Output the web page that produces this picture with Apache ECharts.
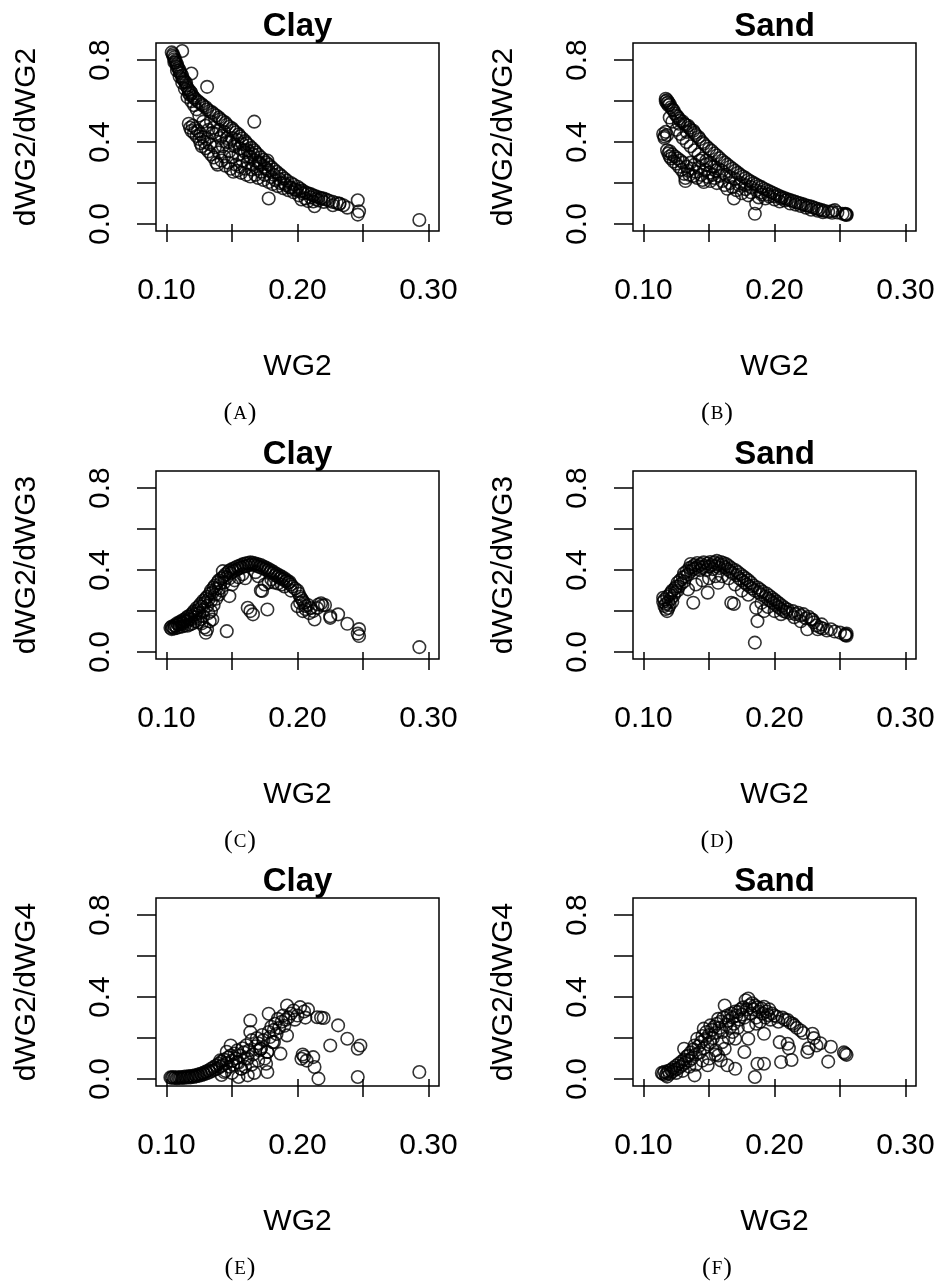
<!DOCTYPE html>
<html><head><meta charset="utf-8">
<script src="https://cdn.jsdelivr.net/npm/echarts@6/dist/echarts.min.js"></script>
<style>html,body{margin:0;padding:0;background:#fff}#c{width:939px;height:1281px}</style>
</head><body><div id="c"></div>
<script>
// ---------- tick / label values ----------
const xTicks = [0.10, 0.15, 0.20, 0.25, 0.30];
const xLabels = [0.10, 0.20, 0.30];
const yTicks = [0.0, 0.2, 0.4, 0.6, 0.8];
const yLabels = [0.0, 0.4, 0.8];
const xRange = [0.092, 0.308];
const yRange = [-0.034, 0.884];
const panelTitles = ['Clay', 'Sand', 'Clay', 'Sand', 'Clay', 'Sand'];
const yNames = ['dWG2/dWG2', 'dWG2/dWG2', 'dWG2/dWG3', 'dWG2/dWG3', 'dWG2/dWG4', 'dWG2/dWG4'];
const xName = 'WG2';
const captions = ['A', 'B', 'C', 'D', 'E', 'F'];

// ---------- data: [WG2, ratio] ----------
const clay_dWG2_dWG2 = [
[0.104,0.838],[0.105,0.830],[0.105,0.822],[0.106,0.815],[0.106,0.805],[0.107,0.798],[0.107,0.788],[0.108,0.780],[0.108,0.770],[0.109,0.762],[0.110,0.752],[0.110,0.742],[0.111,0.735],[0.112,0.724],[0.112,0.712],[0.113,0.705],[0.114,0.695],[0.115,0.690],[0.115,0.675],[0.116,0.665],[0.117,0.655],[0.118,0.648],[0.119,0.640],[0.117,0.640],[0.118,0.630],[0.120,0.625],[0.121,0.617],[0.122,0.610],[0.124,0.600],[0.125,0.593],[0.127,0.585],[0.128,0.577],[0.130,0.570],[0.131,0.560],[0.133,0.552],[0.135,0.545],[0.136,0.537],[0.138,0.530],[0.140,0.520],[0.141,0.512],[0.143,0.503],[0.145,0.495],[0.146,0.485],[0.148,0.475],[0.150,0.468],[0.151,0.458],[0.153,0.448],[0.155,0.438],[0.156,0.428],[0.158,0.418],[0.160,0.405],[0.161,0.395],[0.163,0.385],[0.165,0.372],[0.167,0.360],[0.168,0.350],[0.170,0.338],[0.172,0.326],[0.174,0.314],[0.176,0.300],[0.178,0.290],[0.180,0.278],[0.182,0.266],[0.184,0.255],[0.186,0.244],[0.188,0.234],[0.190,0.222],[0.192,0.212],[0.195,0.200],[0.197,0.192],[0.200,0.182],[0.202,0.172],[0.204,0.163],[0.206,0.155],[0.208,0.150],[0.210,0.146],[0.212,0.140],[0.214,0.135],[0.216,0.131],[0.218,0.127],[0.220,0.124],[0.222,0.120],[0.224,0.114],[0.227,0.108],[0.230,0.103],[0.232,0.098],[0.235,0.092],[0.238,0.080],[0.246,0.116],[0.247,0.062],[0.246,0.046],[0.293,0.020],
[0.112,0.845],[0.119,0.735],[0.131,0.670],[0.167,0.500],[0.177,0.310],[0.178,0.125],
[0.117,0.490],[0.118,0.470],[0.119,0.455],[0.120,0.480],[0.121,0.445],[0.122,0.468],[0.123,0.430],[0.124,0.455],[0.125,0.415],[0.126,0.440],[0.126,0.395],[0.127,0.380],[0.128,0.425],[0.129,0.400],[0.130,0.370],[0.131,0.415],[0.132,0.355],[0.133,0.390],[0.134,0.340],[0.135,0.445],[0.136,0.325],[0.137,0.375],[0.138,0.300],[0.139,0.290],[0.140,0.350],[0.141,0.420],[0.142,0.310],[0.143,0.380],[0.144,0.330],[0.145,0.285],[0.146,0.400],[0.147,0.300],[0.148,0.355],[0.149,0.270],[0.150,0.325],[0.151,0.255],[0.152,0.380],[0.153,0.290],[0.154,0.260],[0.155,0.340],[0.156,0.280],[0.157,0.250],[0.158,0.310],[0.159,0.360],[0.160,0.270],[0.161,0.240],[0.162,0.300],[0.163,0.330],[0.164,0.232],[0.165,0.265],[0.166,0.290],[0.168,0.240],[0.169,0.270],[0.170,0.225],[0.171,0.300],[0.172,0.255],[0.174,0.215],[0.175,0.240],[0.176,0.270],[0.178,0.205],[0.180,0.230],[0.181,0.195],[0.183,0.215],[0.185,0.185],[0.187,0.200],[0.189,0.175],[0.191,0.190],[0.193,0.165],[0.195,0.178],[0.197,0.155],[0.199,0.165],[0.201,0.140],[0.203,0.120],[0.204,0.150],[0.206,0.125],[0.208,0.112],[0.210,0.130],[0.212,0.110],[0.214,0.122],[0.216,0.115],[0.218,0.125],[0.220,0.108],[0.213,0.087],[0.227,0.092],[0.232,0.100],
[0.128,0.500],[0.130,0.480],[0.132,0.460],[0.134,0.500],[0.136,0.470],[0.138,0.440],[0.140,0.460],[0.142,0.430],[0.144,0.450],[0.146,0.420],[0.148,0.400],[0.150,0.420],[0.152,0.390],[0.154,0.410],[0.156,0.370],[0.158,0.390],[0.160,0.350],[0.162,0.360],[0.164,0.330],[0.166,0.340],[0.168,0.310],[0.170,0.300],[0.172,0.290],[0.175,0.280],[0.178,0.260],[0.182,0.240],[0.186,0.220],[0.190,0.200],[0.194,0.180],[0.198,0.170],[0.202,0.160],[0.125,0.530],[0.123,0.560],[0.121,0.580],[0.119,0.600],[0.116,0.620],[0.114,0.660],[0.112,0.690],[0.110,0.720],[0.108,0.750],[0.106,0.790]
];
const sand_dWG2_dWG2 = [
[0.117,0.612],[0.117,0.600],[0.118,0.605],[0.118,0.590],[0.119,0.595],[0.119,0.580],[0.120,0.585],[0.121,0.570],[0.122,0.560],[0.123,0.555],[0.124,0.540],[0.125,0.530],[0.126,0.525],[0.127,0.515],[0.128,0.505],[0.130,0.500],[0.131,0.490],[0.132,0.485],[0.134,0.480],[0.135,0.470],[0.136,0.460],[0.138,0.455],[0.139,0.445],[0.140,0.435],[0.142,0.425],[0.143,0.415],[0.145,0.400],[0.146,0.392],[0.148,0.380],[0.150,0.368],[0.152,0.358],[0.154,0.345],[0.156,0.335],[0.158,0.322],[0.160,0.310],[0.162,0.300],[0.164,0.290],[0.166,0.280],[0.168,0.270],[0.170,0.260],[0.172,0.250],[0.174,0.240],[0.176,0.232],[0.178,0.224],[0.180,0.215],[0.182,0.208],[0.184,0.200],[0.186,0.193],[0.188,0.186],[0.190,0.180],[0.192,0.172],[0.194,0.166],[0.196,0.160],[0.198,0.154],[0.200,0.148],[0.202,0.142],[0.204,0.136],[0.206,0.131],[0.208,0.126],[0.210,0.121],[0.212,0.117],[0.214,0.112],[0.216,0.108],[0.218,0.104],[0.220,0.100],[0.222,0.096],[0.224,0.092],[0.226,0.088],[0.228,0.085],[0.230,0.080],[0.232,0.076],[0.234,0.072],[0.236,0.068],[0.238,0.065],[0.241,0.060],[0.244,0.064],[0.246,0.068],[0.248,0.056],[0.252,0.050],[0.254,0.046],[0.255,0.048],[0.255,0.044],[0.254,0.050],
[0.115,0.440],[0.116,0.428],[0.117,0.450],[0.118,0.435],[0.116,0.420],[0.118,0.360],[0.119,0.345],[0.120,0.330],[0.120,0.355],[0.121,0.320],[0.122,0.340],[0.123,0.305],[0.124,0.330],[0.125,0.295],[0.126,0.320],[0.127,0.280],[0.128,0.310],[0.129,0.265],[0.130,0.300],[0.131,0.245],[0.132,0.225],[0.132,0.210],[0.133,0.280],[0.134,0.260],[0.135,0.240],[0.136,0.300],[0.137,0.270],[0.138,0.235],[0.139,0.290],[0.140,0.255],[0.141,0.225],[0.142,0.275],[0.143,0.310],[0.144,0.240],[0.145,0.215],[0.146,0.205],[0.147,0.265],[0.148,0.290],[0.149,0.230],[0.150,0.250],[0.151,0.210],[0.152,0.280],[0.153,0.240],[0.154,0.225],[0.155,0.260],[0.156,0.200],[0.158,0.235],[0.160,0.210],[0.162,0.190],[0.164,0.172],[0.166,0.200],[0.168,0.180],[0.169,0.125],[0.171,0.165],[0.173,0.190],[0.175,0.150],[0.178,0.170],[0.180,0.140],[0.182,0.155],[0.185,0.050],[0.186,0.100],[0.188,0.130],[0.190,0.145],[0.193,0.125],[0.196,0.135],[0.200,0.120],[0.204,0.110],[0.208,0.115],[0.212,0.100],[0.216,0.095],[0.220,0.088],[0.224,0.080],[0.228,0.070],[0.233,0.065],[0.237,0.058],[0.244,0.055],
[0.125,0.460],[0.128,0.440],[0.130,0.420],[0.133,0.400],[0.136,0.380],[0.139,0.360],[0.142,0.340],[0.145,0.320],[0.148,0.310],[0.151,0.300],[0.154,0.280],[0.157,0.270],[0.160,0.260],[0.163,0.240],[0.166,0.230],[0.170,0.220],[0.174,0.200],[0.178,0.190],[0.182,0.180],[0.186,0.165],[0.190,0.155],[0.195,0.145],[0.200,0.135],[0.205,0.125],[0.122,0.500],[0.120,0.520],[0.127,0.490],[0.133,0.450]
];
const clay_dWG2_dWG3 = [
[0.103,0.118],[0.104,0.125],[0.105,0.120],[0.106,0.130],[0.107,0.128],[0.108,0.140],[0.109,0.135],[0.110,0.145],[0.111,0.150],[0.112,0.142],[0.113,0.158],[0.114,0.152],[0.115,0.165],[0.116,0.172],[0.117,0.160],[0.118,0.180],[0.119,0.175],[0.120,0.190],[0.121,0.200],[0.122,0.185],[0.123,0.215],[0.124,0.205],[0.125,0.225],[0.126,0.235],[0.127,0.222],[0.128,0.250],[0.129,0.240],[0.130,0.262],[0.131,0.270],[0.132,0.255],[0.133,0.285],[0.134,0.300],[0.135,0.290],[0.136,0.315],[0.137,0.325],[0.138,0.310],[0.139,0.340],[0.140,0.350],[0.141,0.335],[0.142,0.360],[0.143,0.395],[0.144,0.370],[0.145,0.380],[0.146,0.365],[0.147,0.390],[0.148,0.398],[0.149,0.385],[0.150,0.405],[0.151,0.395],[0.152,0.410],[0.153,0.400],[0.154,0.418],[0.155,0.408],[0.156,0.422],[0.157,0.412],[0.158,0.428],[0.159,0.418],[0.160,0.432],[0.161,0.420],[0.162,0.435],[0.163,0.425],[0.164,0.438],[0.165,0.428],[0.166,0.436],[0.167,0.425],[0.168,0.432],[0.169,0.420],[0.170,0.428],[0.171,0.415],[0.172,0.425],[0.173,0.410],[0.174,0.418],[0.175,0.405],[0.176,0.412],[0.177,0.398],[0.178,0.405],[0.179,0.390],[0.180,0.398],[0.181,0.385],[0.182,0.390],[0.183,0.375],[0.184,0.382],[0.185,0.368],[0.186,0.375],[0.187,0.360],[0.188,0.368],[0.189,0.355],[0.190,0.360],[0.191,0.345],[0.192,0.350],[0.193,0.338],[0.194,0.342],[0.195,0.330],[0.196,0.320],[0.198,0.310],[0.200,0.300],[0.201,0.285],[0.202,0.270],[0.203,0.260],[0.204,0.250],[0.205,0.240],[0.206,0.225],[0.208,0.230],[0.210,0.215],[0.212,0.200],[0.216,0.232],[0.218,0.238],[0.219,0.228],[0.221,0.230],[0.225,0.175],[0.231,0.184],[0.238,0.138],[0.247,0.112],[0.246,0.090],[0.247,0.078],[0.293,0.024],
[0.104,0.112],[0.106,0.115],[0.108,0.118],[0.110,0.122],[0.112,0.125],[0.114,0.130],[0.116,0.128],[0.118,0.135],[0.120,0.140],[0.122,0.150],[0.124,0.145],[0.126,0.160],[0.127,0.140],[0.128,0.175],[0.129,0.120],[0.130,0.094],[0.131,0.110],[0.132,0.190],[0.133,0.150],[0.134,0.200],[0.135,0.159],[0.136,0.230],[0.138,0.260],[0.140,0.280],[0.142,0.300],[0.146,0.102],[0.148,0.273],[0.150,0.330],[0.152,0.350],[0.155,0.365],[0.158,0.380],[0.160,0.360],[0.162,0.216],[0.164,0.200],[0.166,0.184],[0.168,0.390],[0.170,0.370],[0.172,0.300],[0.173,0.298],[0.175,0.330],[0.177,0.208],[0.178,0.340],[0.180,0.355],[0.182,0.340],[0.185,0.335],[0.188,0.330],[0.190,0.320],[0.195,0.300],[0.200,0.224],[0.202,0.240],[0.204,0.200],[0.206,0.210],[0.209,0.190],[0.213,0.159],[0.215,0.215],[0.225,0.167],
[0.110,0.135],[0.113,0.140],[0.116,0.150],[0.119,0.160],[0.122,0.170],[0.125,0.190],[0.128,0.205],[0.131,0.225],[0.134,0.250],[0.137,0.280],[0.140,0.310],[0.144,0.340],[0.148,0.360]
];
const sand_dWG2_dWG3 = [
[0.115,0.265],[0.115,0.245],[0.116,0.225],[0.116,0.255],[0.117,0.210],[0.117,0.235],[0.118,0.200],[0.118,0.270],[0.119,0.245],[0.119,0.215],[0.120,0.280],[0.120,0.230],[0.121,0.260],[0.121,0.290],[0.122,0.245],[0.122,0.300],[0.123,0.275],[0.124,0.310],[0.124,0.290],[0.125,0.320],[0.126,0.300],[0.126,0.338],[0.127,0.320],[0.128,0.350],[0.129,0.335],[0.130,0.365],[0.131,0.345],[0.131,0.385],[0.132,0.370],[0.133,0.395],[0.134,0.380],[0.134,0.306],[0.135,0.410],[0.136,0.395],[0.136,0.430],[0.137,0.415],[0.138,0.405],[0.138,0.241],[0.139,0.425],[0.140,0.410],[0.141,0.435],[0.142,0.420],[0.143,0.400],[0.144,0.430],[0.145,0.415],[0.146,0.438],[0.147,0.420],[0.148,0.400],[0.149,0.290],[0.149,0.432],[0.150,0.418],[0.151,0.440],[0.152,0.425],[0.153,0.405],[0.154,0.438],[0.155,0.420],[0.156,0.445],[0.157,0.430],[0.157,0.338],[0.158,0.410],[0.159,0.440],[0.160,0.425],[0.161,0.435],[0.162,0.415],[0.163,0.430],[0.164,0.405],[0.165,0.420],[0.166,0.395],[0.167,0.241],[0.167,0.410],[0.168,0.385],[0.169,0.235],[0.170,0.400],[0.171,0.375],[0.172,0.390],[0.173,0.360],[0.174,0.380],[0.175,0.350],[0.176,0.370],[0.177,0.340],[0.178,0.360],[0.179,0.330],[0.180,0.350],[0.181,0.320],[0.182,0.338],[0.183,0.310],[0.184,0.325],[0.185,0.046],[0.185,0.300],[0.186,0.216],[0.187,0.151],[0.187,0.315],[0.188,0.290],[0.189,0.305],[0.190,0.280],[0.191,0.295],[0.192,0.200],[0.193,0.270],[0.194,0.285],[0.195,0.260],[0.196,0.275],[0.197,0.250],[0.198,0.265],[0.199,0.240],[0.200,0.255],[0.201,0.230],[0.202,0.245],[0.203,0.220],[0.204,0.235],[0.205,0.210],[0.206,0.225],[0.207,0.200],[0.208,0.215],[0.209,0.195],[0.210,0.208],[0.212,0.190],[0.214,0.200],[0.216,0.185],[0.218,0.192],[0.220,0.178],[0.222,0.185],[0.224,0.165],[0.226,0.172],[0.228,0.160],[0.229,0.158],[0.225,0.111],[0.230,0.145],[0.232,0.130],[0.233,0.111],[0.235,0.120],[0.237,0.115],[0.240,0.105],[0.243,0.111],[0.246,0.100],[0.250,0.095],[0.254,0.086],[0.255,0.080],[0.254,0.082],[0.255,0.090],
[0.140,0.330],[0.145,0.350],[0.150,0.360],[0.155,0.370],[0.160,0.370],[0.165,0.360],[0.170,0.330],[0.175,0.300],[0.180,0.280],[0.190,0.240],[0.195,0.220],[0.200,0.200],[0.205,0.185],[0.215,0.170],[0.220,0.150],[0.236,0.135]
];
const clay_dWG2_dWG4 = [
[0.103,0.008],[0.104,0.006],[0.105,0.010],[0.106,0.005],[0.107,0.009],[0.108,0.004],[0.109,0.008],[0.110,0.006],[0.111,0.010],[0.112,0.005],[0.113,0.008],[0.114,0.012],[0.115,0.006],[0.116,0.010],[0.117,0.014],[0.118,0.008],[0.119,0.012],[0.120,0.016],[0.121,0.010],[0.122,0.018],[0.123,0.014],[0.124,0.022],[0.125,0.016],[0.126,0.026],[0.127,0.020],[0.128,0.030],[0.129,0.024],[0.130,0.036],[0.131,0.028],[0.132,0.042],[0.133,0.034],[0.134,0.050],[0.135,0.040],[0.136,0.058],[0.137,0.046],[0.138,0.066],[0.139,0.052],[0.140,0.075],[0.141,0.060],[0.142,0.085],[0.143,0.068],[0.144,0.095],[0.145,0.040],[0.146,0.078],[0.147,0.105],[0.148,0.060],[0.149,0.115],[0.150,0.090],[0.151,0.070],[0.152,0.125],[0.153,0.100],[0.154,0.140],[0.155,0.080],[0.156,0.115],[0.157,0.050],[0.158,0.150],[0.159,0.130],[0.160,0.100],[0.161,0.165],[0.162,0.018],[0.163,0.140],[0.164,0.286],[0.164,0.229],[0.165,0.190],[0.166,0.120],[0.167,0.030],[0.168,0.160],[0.169,0.200],[0.170,0.175],[0.171,0.140],[0.172,0.148],[0.173,0.215],[0.174,0.190],[0.175,0.100],[0.176,0.075],[0.177,0.034],[0.177,0.132],[0.178,0.319],[0.178,0.230],[0.179,0.205],[0.180,0.255],[0.181,0.180],[0.182,0.240],[0.183,0.270],[0.184,0.220],[0.185,0.294],[0.186,0.250],[0.187,0.124],[0.188,0.280],[0.189,0.310],[0.190,0.260],[0.191,0.290],[0.192,0.359],[0.192,0.213],[0.193,0.300],[0.195,0.320],[0.197,0.335],[0.198,0.290],[0.200,0.310],[0.202,0.351],[0.203,0.099],[0.204,0.120],[0.205,0.330],[0.205,0.110],[0.206,0.300],[0.207,0.090],[0.208,0.340],[0.212,0.107],[0.213,0.059],[0.215,0.302],[0.216,0.002],[0.218,0.300],[0.220,0.298],[0.225,0.164],[0.231,0.262],[0.238,0.197],[0.246,0.148],[0.248,0.164],[0.246,0.010],[0.293,0.034],
[0.142,0.020],[0.150,0.030],[0.155,0.010],[0.160,0.060],[0.165,0.070],[0.170,0.090],[0.149,0.164],[0.146,0.133],[0.141,0.091],[0.144,0.034],[0.154,0.083],[0.157,0.050],[0.162,0.099],[0.172,0.148],[0.177,0.132],[0.182,0.180]
];
const sand_dWG2_dWG4 = [
[0.114,0.030],[0.115,0.025],[0.116,0.035],[0.117,0.020],[0.118,0.030],[0.118,0.012],[0.119,0.040],[0.120,0.025],[0.121,0.045],[0.122,0.035],[0.123,0.055],[0.124,0.045],[0.125,0.065],[0.126,0.050],[0.127,0.075],[0.128,0.060],[0.129,0.085],[0.130,0.070],[0.131,0.148],[0.131,0.095],[0.132,0.080],[0.133,0.110],[0.134,0.115],[0.135,0.090],[0.136,0.130],[0.137,0.100],[0.138,0.145],[0.139,0.164],[0.139,0.018],[0.140,0.120],[0.141,0.197],[0.142,0.160],[0.143,0.130],[0.144,0.180],[0.145,0.210],[0.146,0.246],[0.146,0.150],[0.147,0.195],[0.148,0.230],[0.149,0.067],[0.149,0.170],[0.150,0.215],[0.151,0.262],[0.151,0.180],[0.152,0.240],[0.153,0.200],[0.154,0.255],[0.155,0.120],[0.155,0.225],[0.156,0.270],[0.157,0.294],[0.157,0.115],[0.158,0.250],[0.159,0.091],[0.159,0.280],[0.160,0.230],[0.161,0.300],[0.162,0.359],[0.162,0.148],[0.163,0.265],[0.164,0.067],[0.164,0.310],[0.165,0.285],[0.166,0.250],[0.167,0.320],[0.168,0.300],[0.169,0.270],[0.170,0.050],[0.170,0.197],[0.170,0.330],[0.171,0.310],[0.172,0.328],[0.173,0.290],[0.174,0.340],[0.175,0.315],[0.176,0.350],[0.177,0.132],[0.177,0.300],[0.178,0.385],[0.179,0.340],[0.180,0.393],[0.180,0.197],[0.181,0.360],[0.182,0.320],[0.183,0.370],[0.184,0.340],[0.185,0.010],[0.185,0.359],[0.186,0.300],[0.187,0.075],[0.187,0.350],[0.188,0.330],[0.189,0.280],[0.190,0.345],[0.191,0.320],[0.192,0.353],[0.192,0.221],[0.192,0.075],[0.193,0.300],[0.194,0.330],[0.195,0.312],[0.196,0.340],[0.197,0.290],[0.198,0.320],[0.200,0.310],[0.202,0.304],[0.203,0.280],[0.204,0.180],[0.205,0.083],[0.206,0.300],[0.208,0.290],[0.210,0.288],[0.210,0.172],[0.211,0.150],[0.212,0.275],[0.213,0.093],[0.214,0.270],[0.215,0.262],[0.217,0.250],[0.220,0.237],[0.222,0.225],[0.225,0.132],[0.226,0.150],[0.229,0.221],[0.230,0.200],[0.232,0.164],[0.235,0.175],[0.241,0.085],[0.243,0.158],[0.254,0.124],[0.255,0.118],[0.253,0.130],
[0.125,0.030],[0.130,0.040],[0.135,0.060],[0.140,0.070],[0.145,0.090],[0.150,0.100],[0.155,0.140],[0.160,0.180],[0.165,0.200],[0.168,0.230],[0.172,0.250],[0.180,0.260],[0.186,0.270]
];
const panelData = [clay_dWG2_dWG2, sand_dWG2_dWG2, clay_dWG2_dWG3, sand_dWG2_dWG3, clay_dWG2_dWG4, sand_dWG2_dWG4];

// ---------- layout ----------
const colLeft = [156, 633];
const rowTop = [43, 471, 898];
const boxW = 283, boxH = 188;
const capX = [240, 717];
const FONT = '"Liberation Sans", Arial, Helvetica, sans-serif';
const SERIF = '"Liberation Serif", "DejaVu Serif", serif';

const grids = [], xAxes = [], yAxes = [], series = [], graphics = [];
for (let i = 0; i < 6; i++) {
  const c = i % 2, r = Math.floor(i / 2);
  grids.push({left: colLeft[c], top: rowTop[r], width: boxW, height: boxH,
    show: true, borderColor: '#000', borderWidth: 1.5, backgroundColor: 'transparent',
    containLabel: false, outerBoundsMode: 'none'});
  xAxes.push({type: 'value', gridIndex: i, min: xRange[0], max: xRange[1],
    axisLine: {show: false}, splitLine: {show: false},
    axisTick: {show: true, inside: false, length: 18, customValues: xTicks, lineStyle: {color: '#000', width: 1.5}},
    axisLabel: {show: true, customValues: xLabels, margin: 45, color: '#000', fontSize: 30, fontFamily: FONT,
      formatter: v => Number(v).toFixed(2)},
    name: xName, nameLocation: 'middle', nameGap: 121,
    nameTextStyle: {color: '#000', fontSize: 30, fontFamily: FONT}});
  yAxes.push({type: 'value', gridIndex: i, min: yRange[0], max: yRange[1],
    axisLine: {show: false}, splitLine: {show: false},
    axisTick: {show: true, inside: false, length: 19, customValues: yTicks, lineStyle: {color: '#000', width: 1.5}},
    axisLabel: {show: true, customValues: yLabels, rotate: 90, margin: 40, color: '#000', fontSize: 30, fontFamily: FONT,
      formatter: v => Number(v).toFixed(1)},
    name: yNames[i], nameLocation: 'middle', nameRotate: 90, nameGap: 114,
    nameTextStyle: {color: '#000', fontSize: 30, fontFamily: FONT}});
  series.push({type: 'scatter', xAxisIndex: i, yAxisIndex: i, data: panelData[i],
    symbol: 'circle', symbolSize: 12.5, silent: true, animation: false,
    itemStyle: {color: 'rgba(0,0,0,0)', borderColor: '#000', borderWidth: 1.6}});
  graphics.push({type: 'text', x: colLeft[c] + boxW / 2, y: rowTop[r] - 16, silent: true,
    style: {text: panelTitles[i], fill: '#000', font: 'bold 33px ' + FONT,
      textAlign: 'center', textVerticalAlign: 'middle', align: 'center', verticalAlign: 'middle'}});
  graphics.push({type: 'text', x: capX[c], y: rowTop[r] + 370, silent: true,
    style: {text: '{p|(}{s|' + captions[i] + '}{p|)}', fill: '#000',
      textAlign: 'center', textVerticalAlign: 'middle', align: 'center', verticalAlign: 'middle',
      rich: {p: {fontSize: 26, fontFamily: SERIF, fill: '#000', color: '#000'},
             s: {fontSize: 19, fontFamily: SERIF, fill: '#000', color: '#000', padding: [3, 1, 0, 1]}}}});
}

const chart = echarts.init(document.getElementById('c'), null, {renderer: 'canvas'});
chart.setOption({
  animation: false,
  backgroundColor: '#fff',
  grid: grids, xAxis: xAxes, yAxis: yAxes, series: series, graphic: graphics
});
</script></body></html>
